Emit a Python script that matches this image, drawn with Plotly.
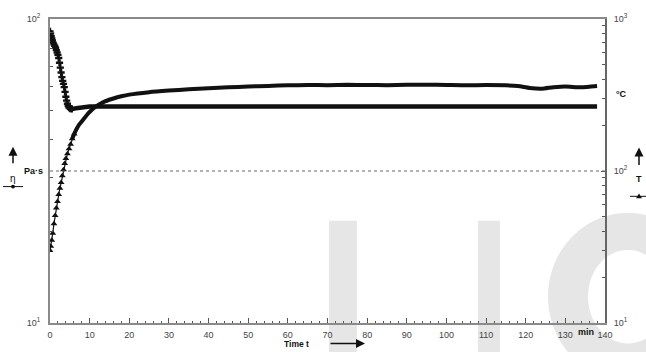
import numpy as np
import plotly.graph_objects as go

# Viscosity eta (Pa·s, left log axis)
eta_time = [0.0, 0.15, 0.3, 0.45, 0.6, 0.8, 1.0, 1.2, 1.4, 1.6, 1.8, 2.0, 2.2, 2.4,
            2.6, 2.8, 3.0, 3.2, 3.4, 3.6, 3.8, 4.0, 4.2, 4.4, 4.6, 4.8, 5.1, 5.5,
            6.0, 6.6, 7.3, 8.0, 9.0, 10, 12, 15, 20, 25, 30, 40, 50, 60, 70, 80,
            90, 100, 110, 120, 130, 138]
eta_vals = [91, 89.5, 87.8, 86.3, 85.0, 83.6, 82.5, 81.6, 80.4, 79.0, 77.6, 76.2,
            74.4, 71.8, 69.2, 66.7, 64.4, 62.6, 61.2, 59.7, 57.6, 55.5, 53.9, 52.6,
            51.7, 51.1, 50.7, 50.6, 50.7, 50.9, 51.1, 51.3, 51.4, 51.5, 51.5, 51.5,
            51.5, 51.5, 51.5, 51.5, 51.5, 51.5, 51.5, 51.5, 51.5, 51.5, 51.5, 51.5,
            51.5, 51.5]

# Temperature T (°C, right log axis)
T_time = [0, 0.2, 0.45, 0.7, 1.0, 1.3, 1.6, 1.9, 2.2, 2.5, 2.8, 3.1, 3.4, 3.7, 4.0,
          4.4, 4.8, 5.2, 5.6, 6.1, 6.7, 7.3, 8.0, 8.8, 9.7, 10.5, 11.5, 12.5, 14,
          16, 18, 20, 25, 30, 35, 40, 45, 50, 55, 60, 65, 70, 75, 80, 85, 90, 95,
          100, 105, 110, 115, 118, 121, 124, 127, 130, 134, 138]
T_vals = [30, 32, 35, 39, 45, 51, 57, 63, 70, 77, 84, 93, 102, 112, 121, 130, 140,
          150, 163, 175, 189, 201, 212, 225, 240, 252, 265, 275, 288, 300, 310, 318,
          330, 338, 345, 350, 355, 360, 363, 366, 368, 367, 369, 368, 367, 369, 370,
          368, 366, 368, 366, 362, 352, 348, 356, 360, 355, 362]

x_ticks = list(range(0, 141, 10))

# figure geometry (pixels)
W_FIG, H_FIG = 646, 352
ML, MR, MT, MB = 50, 41, 15, 25
PW, PH = W_FIG - ML - MR, H_FIG - MT - MB


def px(x):
    return (x - ML) / PW


def py(y):
    return 1 - (y - MT) / PH


FONT = "Liberation Sans, Arial, sans-serif"
INK = "#111111"
AX = "#8a8a8a"

fig = go.Figure()

# eta: thin line + cross markers on the drop, thick trace on the plateau
n_eta = 27
fig.add_trace(go.Scatter(x=eta_time[:n_eta + 1], y=eta_vals[:n_eta + 1], mode="lines+markers",
                         line=dict(color=INK, width=1.2),
                         marker=dict(symbol="cross", size=6, color=INK),
                         yaxis="y", showlegend=False, hoverinfo="skip"))
fig.add_trace(go.Scatter(x=eta_time[n_eta - 1:], y=eta_vals[n_eta - 1:], mode="lines",
                         line=dict(color=INK, width=4.5),
                         yaxis="y", showlegend=False, hoverinfo="skip"))

# T: thin line + triangle markers on the rise, thick trace afterwards
n_T = 19
fig.add_trace(go.Scatter(x=T_time[:n_T + 1], y=T_vals[:n_T + 1], mode="lines+markers",
                         line=dict(color=INK, width=1.2),
                         marker=dict(symbol="triangle-up", size=6, color=INK),
                         yaxis="y2", showlegend=False, hoverinfo="skip"))
fig.add_trace(go.Scatter(x=T_time[n_T - 1:], y=T_vals[n_T - 1:], mode="lines",
                         line=dict(color=INK, width=4, shape="spline", smoothing=0.6),
                         yaxis="y2", showlegend=False, hoverinfo="skip"))

shapes = []
# faint background lettering blocks
WM = "#e6e6e6"
shapes.append(dict(type="rect", xref="paper", yref="paper", layer="below",
                   x0=px(329), x1=px(357), y0=py(222), y1=py(360),
                   fillcolor=WM, line=dict(width=0)))
shapes.append(dict(type="rect", xref="paper", yref="paper", layer="below",
                   x0=px(478), x1=px(500), y0=py(222), y1=py(360),
                   fillcolor=WM, line=dict(width=0)))
th = np.linspace(0.35 * np.pi, 1.65 * np.pi, 60)
cx, cy = 628, 300
outer = [(cx + 80 * np.cos(a), cy - 86 * np.sin(a)) for a in th]
inner = [(cx + 40 * np.cos(a), cy - 48 * np.sin(a)) for a in th[::-1]]
pts = outer + inner
path = "M " + " L ".join(f"{px(x):.4f},{py(y):.4f}" for x, y in pts) + " Z"
shapes.append(dict(type="path", xref="paper", yref="paper", layer="below",
                   path=path, fillcolor=WM, line=dict(width=0)))

# dotted reference at T = 100 °C
shapes.append(dict(type="line", xref="paper", yref="y2", x0=0, x1=1, y0=100, y1=100,
                   line=dict(color="#666666", width=1, dash="dot")))

# legend glyphs beside the axis captions
shapes.append(dict(type="line", xref="paper", yref="paper", x0=px(3), x1=px(23),
                   y0=py(187), y1=py(187), line=dict(color=INK, width=1)))
shapes.append(dict(type="circle", xref="paper", yref="paper", x0=px(11), x1=px(15),
                   y0=py(185), y1=py(189), fillcolor=INK, line=dict(width=0)))
shapes.append(dict(type="line", xref="paper", yref="paper", x0=px(630), x1=px(647),
                   y0=py(197), y1=py(197), line=dict(color=INK, width=1)))
tri = [(639, 194), (642, 199), (636, 199)]
shapes.append(dict(type="path", xref="paper", yref="paper",
                   path="M " + " L ".join(f"{px(x):.4f},{py(y):.4f}" for x, y in tri) + " Z",
                   fillcolor=INK, line=dict(width=0)))

ann = []


def label(x, y, text, size=9, bold=True, color=INK):
    ann.append(dict(xref="paper", yref="paper", x=px(x), y=py(y), text=f"<b>{text}</b>" if bold else text,
                    showarrow=False, xanchor="center", yanchor="middle",
                    font=dict(family=FONT, size=size, color=color)))


def arrow(x_head, y_head, dx, dy):
    ann.append(dict(xref="paper", yref="paper", x=px(x_head), y=py(y_head), text="",
                    showarrow=True, ax=dx, ay=dy, arrowhead=2, arrowsize=1.2,
                    arrowwidth=1.5, arrowcolor=INK))


label(296, 349, "Time t", 8.5)
arrow(365, 348, -36, 0)
label(586, 336, "min", 9)
label(33, 171, "Pa·s", 9)
arrow(13, 146, 0, 18)
label(13, 179, "η", 10, bold=False)
label(621, 92, "°C", 9)
arrow(639, 147, 0, 19)
label(639, 179, "T", 9)

tickfont = dict(family=FONT, size=9, color="#444444")

fig.update_layout(
    width=W_FIG, height=H_FIG,
    margin=dict(l=ML, r=MR, t=MT, b=MB),
    paper_bgcolor="white", plot_bgcolor="rgba(0,0,0,0)",
    shapes=shapes, annotations=ann,
    xaxis=dict(range=[0, 140], tickvals=x_ticks, ticktext=[str(v) for v in x_ticks],
               ticks="inside", ticklen=5, tickwidth=1, tickcolor="#555555",
               minor=dict(dtick=2, ticks="inside", ticklen=2, tickcolor="#555555"),
               showline=True, linecolor=AX, linewidth=2, mirror=True,
               showgrid=False, zeroline=False, tickfont=tickfont,
               ticklabelstandoff=2),
    yaxis=dict(type="log", range=[1, 2], tickvals=[10, 100],
               ticktext=["10<sup>1</sup>", "10<sup>2</sup>"],
               ticks="inside", ticklen=4, tickcolor="#555555",
               minor=dict(tickvals=[20, 30, 40, 50, 60, 70, 80, 90], ticks="inside",
                          ticklen=3, tickcolor="#555555"),
               showline=True, linecolor=AX, linewidth=2,
               showgrid=False, zeroline=False, tickfont=tickfont,
               ticklabelstandoff=6),
    yaxis2=dict(type="log", range=[1, 3], overlaying="y", side="right",
                tickvals=[10, 100, 1000],
                ticktext=["10<sup>1</sup>", "10<sup>2</sup>", "10<sup>3</sup>"],
                ticks="inside", ticklen=4, tickcolor="#555555",
                minor=dict(tickvals=[20, 30, 40, 50, 60, 70, 80, 90,
                                     200, 300, 400, 500, 600, 700, 800, 900],
                           ticks="inside", ticklen=3, tickcolor="#555555"),
                showline=True, linecolor="#666666", linewidth=2,
                showgrid=False, zeroline=False, tickfont=tickfont,
                ticklabelstandoff=5),
)

fig.write_html("out.html")
